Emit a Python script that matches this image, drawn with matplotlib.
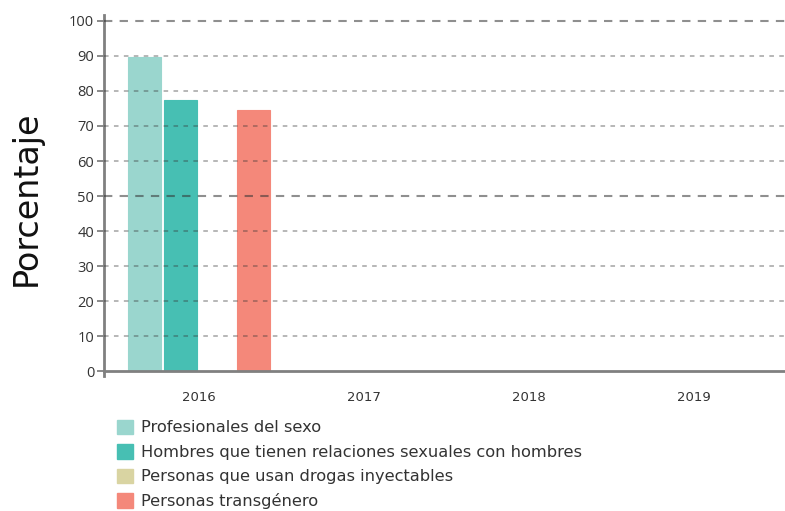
import matplotlib.pyplot as plt
import numpy as np
from matplotlib.patches import Patch

WIDTH_PX = 785
HEIGHT_PX = 511
DPI = 100

years = ["2016", "2017", "2018", "2019"]
series_names = [
    "Profesionales del sexo",
    "Hombres que tienen relaciones sexuales con hombres",
    "Personas que usan drogas inyectables",
    "Personas transgénero",
]
profesionales = [89.6, np.nan, np.nan, np.nan]
hsh = [77.4, np.nan, np.nan, np.nan]
pudi = [np.nan, np.nan, np.nan, np.nan]
transgenero = [74.6, np.nan, np.nan, np.nan]
colors = ["#9ad6ce", "#47bfb3", "#d9d4a2", "#f4887a"]


def main():
    fig = plt.figure(figsize=(WIDTH_PX / DPI, HEIGHT_PX / DPI), dpi=DPI)
    ax = fig.add_axes([104 / 785, 1 - 376 / 511, 1 - 104 / 785, (376 - 15) / 511])

    x = np.arange(len(years))
    width = 0.198
    step = 0.221
    all_series = [profesionales, hsh, pudi, transgenero]
    for i, (vals, col) in enumerate(zip(all_series, colors)):
        off = (i - 1.5) * step
        ax.bar(x + off, vals, width=width, color=col, edgecolor=col,
               linewidth=0.8, zorder=2)

    ax.set_xlim(-0.576, 3.55)
    ax.set_ylim(-1.4, 101.7)

    # dashed grid drawn over the bars, 50 and 100 a bit stronger
    for v in range(10, 101, 10):
        strong = v in (50, 100)
        ax.axhline(v, color="#333333", alpha=0.55 if strong else 0.45,
                   linestyle=(0, (4, 3.5)) if strong else (0, (3, 3.5)),
                   linewidth=1.5 if strong else 1.1, zorder=4)

    ax.set_yticks(range(0, 101, 10))
    ax.set_xticks(x)
    ax.set_xticklabels(years)
    ax.tick_params(axis="x", length=0, pad=14, labelsize=9.5, colors="#333333")
    ax.tick_params(axis="y", length=5, width=1.2, color="#777777",
                   labelsize=10.5, labelcolor="#333333", pad=2)
    for lab in ax.get_yticklabels():
        lab.set_family("Open Sans")

    for s in ("top", "right"):
        ax.spines[s].set_visible(False)
    ax.spines["left"].set_color("#808080")
    ax.spines["left"].set_linewidth(2)
    ax.spines["bottom"].set_color("#808080")
    ax.spines["bottom"].set_linewidth(2)
    ax.spines["bottom"].set_position(("data", 0))

    fig.text(26 / 785, 1 - 198 / 511, "Porcentaje", rotation=90,
             ha="center", va="center", fontsize=24, color="#111111")

    handles = [Patch(facecolor=c, edgecolor=c) for c in colors]
    fig.legend(handles, series_names, loc="upper left",
               bbox_to_anchor=(110 / 785, 1 - 413 / 511), frameon=False,
               fontsize=11.7, labelcolor="#333333", handlelength=1.0,
               handleheight=1.0, handletextpad=0.5, labelspacing=0.535,
               borderaxespad=0)

    fig.savefig("out.png", dpi=DPI)
    plt.close(fig)


if __name__ == "__main__":
    main()
